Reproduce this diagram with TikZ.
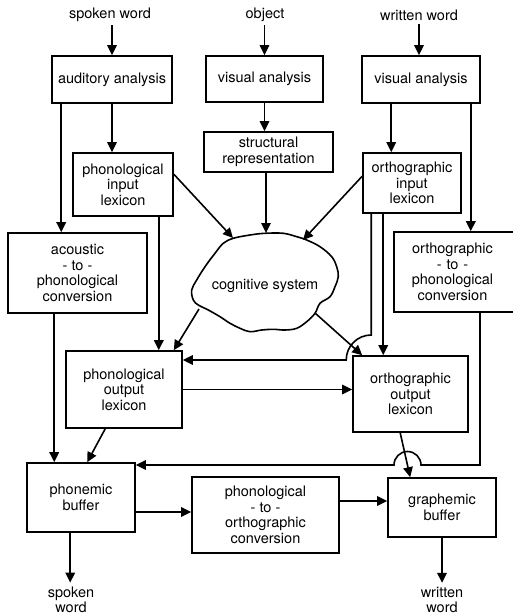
\documentclass[tikz,border=0pt]{standalone}
\usepackage{fontspec}
\setmainfont{TeX Gyre Heros}
\usetikzlibrary{arrows.meta,calc}

\begin{document}
\begin{tikzpicture}[x=1pt,y=-1pt,
  txt/.style={font=\fontsize{14.5}{15.5}\selectfont},
  box/.style={txt, draw, line width=1.6pt, fill=white, align=center, inner sep=0pt},
  lbl/.style={txt, align=center, inner sep=3pt},
  ln/.style={line width=1.6pt},
  arr/.style={line width=1.6pt, -{Triangle[length=10pt,width=9.5pt]}}
]
\fill[white] (0,0) rectangle (513,616);
\useasboundingbox (0,0) rectangle (513,616);

% inputs
\node[lbl] (sw)  at (110,15) {spoken word};
\node[lbl] (obj) at (265,15) {object};
\node[lbl] (ww)  at (419,15) {written word};

% first row
\node[box, minimum width=120pt, minimum height=47pt] (aud)  at (112,79.5) {auditory analysis};
\node[box, minimum width=117pt, minimum height=46pt] (vis1) at (264.5,79) {visual analysis};
\node[box, minimum width=118pt, minimum height=47pt] (vis2) at (421,79.5) {visual analysis};

% lexicons and conversions
\node[box, minimum width=129pt, minimum height=40pt] (str)  at (268.5,152) {structural\\representation};
\node[box, minimum width=100pt, minimum height=63pt] (pin)  at (123,184.5) {phonological\\input\\lexicon};
\node[box, minimum width=98pt,  minimum height=60pt] (oin)  at (412,183) {orthographic\\input\\lexicon};
\node[box, minimum width=139pt, minimum height=80pt] (acou) at (77.5,273) {acoustic\\- to -\\phonological\\conversion};
\node[box, minimum width=122pt, minimum height=80pt, text width=117pt] (o2p) at (455,272) {\hspace*{-5pt}orthographic\\\hspace*{-5pt}- to -\\\hspace*{-5pt}phonological\\\hspace*{-5pt}conversion};
\node[box, minimum width=116pt, minimum height=77pt] (pout) at (124,389.5) {phonological\\output\\lexicon};
\node[box, minimum width=115pt, minimum height=76pt] (oout) at (410.5,394) {orthographic\\output\\lexicon};
\node[box, minimum width=108pt, minimum height=69pt] (phb)  at (81,497.5) {phonemic\\buffer};
\node[box, minimum width=147pt, minimum height=76pt] (p2o)  at (265.5,515) {phonological\\- to -\\orthographic\\conversion};
\node[box, minimum width=108pt, minimum height=59pt] (grb)  at (442,507.5) {graphemic\\buffer};

% outputs
\node[lbl, inner sep=4pt] (so) at (71,600) {spoken\\word};
\node[lbl, inner sep=4pt] (wo) at (442,600) {written\\word};

% cognitive system
\draw[ln, fill=white] plot[smooth cycle, tension=0.6] coordinates {
  (233.3,238.3) (250,235) (265,233.3) (283.3,233.3) (296.7,236.7) (306.7,240)
  (320,246.7) (331.7,256.7) (336.7,266.7) (338.3,276.7) (335,286.7) (330,296.7)
  (320,303.3) (315,313.3) (306.7,321.7) (296.7,328.3) (285,330) (273.3,329.3)
  (261.7,330) (250,331.7) (240,328.3) (230,323.3) (220,316.7) (208.3,310)
  (198.3,305) (193.3,300) (191.7,290) (196.7,280) (205,266.7) (215,253.3)
  (223.3,243.3)};
\node[txt] (cog) at (265,286) {cognitive system};
\coordinate (cinL) at (233,238);
\coordinate (cinT) at (266,233);
\coordinate (cinR) at (303,240);
\coordinate (coutL) at (199,309);
\coordinate (coutR) at (315,313);

% input arrows
\draw[arr] (sw.south -| aud.north) -- (aud.north);
\draw[arr] (obj.south -| vis1.north) -- (vis1.north);
\draw[arr] (ww.south) -- (ww.south |- vis2.north);

% auditory route
\draw[arr] ($(aud.south west)+(10,0)$) coordinate (a1) -- (a1 |- acou.north);
\draw[arr] (aud.south) -- (aud.south |- pin.north);
\draw[arr] ($(acou.south west)+(47,0)$) coordinate (a2) -- (a2 |- phb.north);
\draw[arr] ($(pin.south east)+(-15,0)$) coordinate (a3) -- (a3 |- pout.north);
\draw[arr] ($(pin.north east)+(0,22)$) -- (cinL);

% object route
\draw[arr] (vis1.south) -- (vis1.south |- str.north);
\draw[arr] (str.south -| cinT) -- (cinT);

% written route
\draw[arr] ($(vis2.south west)+(30,0)$) coordinate (b1) -- (b1 |- oin.north);
\draw[arr] ($(vis2.south east)+(-10,0)$) coordinate (b2) -- (b2 |- o2p.north);
\draw[arr] ($(oin.north west)+(0,24)$) -- (cinR);
\draw[arr] ($(oin.south west)+(21,0)$) coordinate (b3) -- (b3 |- oout.north);

% from the cognitive system
\draw[arr] (coutL) -- ($(pout.north east)+(-9,0)$);
\draw[arr] (coutR) -- ($(oout.north west)+(10,0)$);

% orthographic input lexicon to phonological output lexicon
\coordinate (hopA) at (372,335);
\draw[arr] ($(oin.south west)+(9,0)$) coordinate (b4) -- (b4 |- hopA)
  arc[start angle=90, end angle=180, radius=25pt] coordinate (hopB)
  -- (pout.east |- hopB);

% between output lexicons
\draw[arr] (pout.east) -- (pout.east -| oout.west);

% to the buffers
\draw[arr] ($(pout.south west)+(40,0)$) -- ($(phb.north west)+(61,0)$);
\draw[arr] ($(oout.south west)+(48,0)$) -- ($(grb.north west)+(23,0)$);

% orthographic-to-phonological conversion to phonemic buffer
\coordinate (jn) at (480,465);
\draw[arr] (o2p.south -| jn) -- (jn) -- (421,465)
  arc[start angle=0, end angle=180, radius=13.5pt] -- (phb.east |- jn);

% buffers and conversion
\draw[arr] ($(phb.east)+(0,14.5)$) coordinate (c1) -- (c1 -| p2o.west);
\draw[arr] ($(p2o.east)+(0,-14)$) coordinate (c2) -- (c2 -| grb.west);

% outputs
\draw[arr] ($(phb.south west)+(44,0)$) coordinate (d1) -- (d1 |- so.north);
\draw[arr] (grb.south) -- (grb.south |- wo.north);
\end{tikzpicture}
\end{document}
